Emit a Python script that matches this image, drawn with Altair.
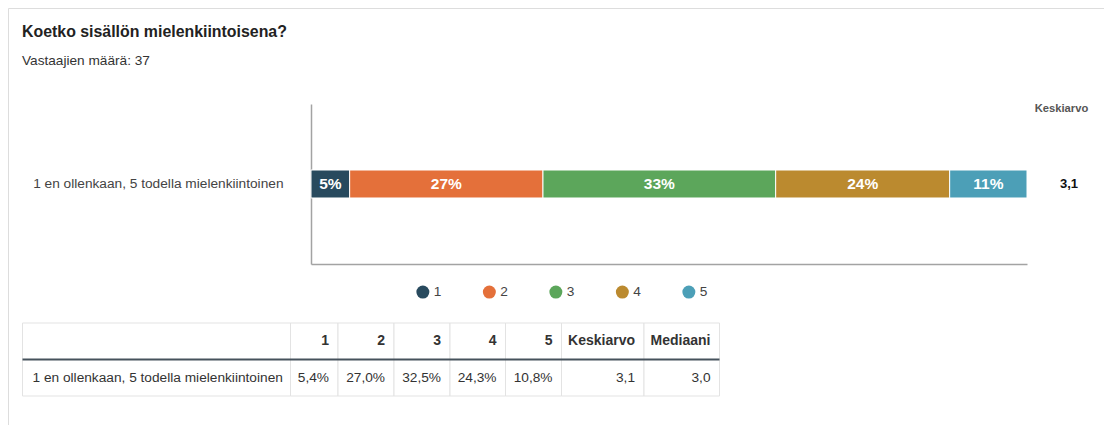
import altair as alt
import pandas as pd

# ---------------- data ----------------
TITLE = "Koetko sisällön mielenkiintoisena?"
SUBTITLE = "Vastaajien määrä: 37"
QUESTION = "1 en ollenkaan, 5 todella mielenkiintoinen"
SCORES = ["1", "2", "3", "4", "5"]
PCT = [5.4, 27.0, 32.5, 24.3, 10.8]
MEAN = 3.1
MEDIAN = 3.0
MEAN_LABEL = "Keskiarvo"
MEDIAN_LABEL = "Mediaani"

# ---------------- style / layout ----------------
COLORS = ["#284a5e", "#e4703a", "#5ca65b", "#bb8a2f", "#4c9fb7"]
FONT = "Liberation Sans"
W, H = 1096, 420
BAR_X = [303, 1019]
BAR_Y = [96, 256]
TABLE_X = [14.5, 711.5]
TABLE_Y = [315, 388]
COL_W = [268, 47.5, 56, 56, 55.5, 56, 82.5, 75.5]


def fi(v):
    return f"{v:.1f}".replace(".", ",")


bars_df = pd.DataFrame({"question": [QUESTION] * len(SCORES), "score": SCORES, "pct": PCT})

x_bar = alt.Scale(domain=[0, 100], range=BAR_X, nice=False, zero=True)
y_bar = alt.Scale(domain=[QUESTION], range=BAR_Y, paddingInner=0.5758, paddingOuter=1)

base = alt.Chart(bars_df).transform_stack(
    stack="pct", groupby=["question"], as_=["x0", "x1"],
    sort=[alt.SortField("score", order="ascending")]
)

bars = base.mark_bar(stroke="white", strokeWidth=1).encode(
    x=alt.X("x0:Q", scale=x_bar,
            axis=alt.Axis(title=None, orient="bottom", offset=-(H - BAR_Y[1]), labels=False,
                          ticks=False, grid=False, domainColor="#a3a3a3", domainWidth=1.5)),
    x2="x1:Q",
    y=alt.Y("question:N", scale=y_bar,
            axis=alt.Axis(title=None, orient="left", offset=-BAR_X[0], ticks=False, grid=False,
                          domainColor="#a3a3a3", domainWidth=1.5, labelPadding=28,
                          labelFontSize=13.7, labelColor="#444", labelFont=FONT, labelLimit=500)),
    color=alt.Color("score:N", scale=alt.Scale(domain=SCORES, range=COLORS),
                    legend=alt.Legend(title=None, orient="none", legendX=408, legendY=277,
                                      direction="horizontal", symbolType="circle", symbolSize=169,
                                      symbolStrokeWidth=0, symbolOpacity=1, labelFontSize=13.7,
                                      labelColor="#444", labelFont=FONT, labelOffset=4,
                                      columnPadding=40.5)),
)

bar_text = base.transform_calculate(
    mid="(datum.x0 + datum.x1) / 2",
    label="round(datum.pct) + '%'"
).mark_text(color="white", fontWeight="bold", fontSize=15.5, font=FONT, baseline="middle").encode(
    x=alt.X("mid:Q", scale=x_bar, axis=None),
    y=alt.Y("question:N", scale=y_bar, axis=None),
    text="label:N",
)

mean_df = pd.DataFrame({"question": [QUESTION], "mean": [fi(MEAN)], "head": [MEAN_LABEL]})
mean_text = alt.Chart(mean_df).mark_text(fontWeight="bold", fontSize=13, font=FONT, color="#111",
                                          baseline="middle").encode(
    x=alt.value(1061),
    y=alt.Y("question:N", scale=y_bar, axis=None),
    text="mean:N",
)
mean_head = alt.Chart(mean_df).mark_text(fontWeight="bold", fontSize=11.2, font=FONT, color="#555",
                                          baseline="alphabetic").encode(
    x=alt.value(1053.5), y=alt.value(104), text="head:N",
)

title_df = pd.DataFrame({"t": [TITLE], "s": [SUBTITLE]})
title = alt.Chart(title_df).mark_text(align="left", baseline="alphabetic", fontSize=15.9,
                                      fontWeight="bold", font=FONT, color="#222").encode(
    x=alt.value(14), y=alt.value(29), text="t:N")
subtitle = alt.Chart(title_df).mark_text(align="left", baseline="alphabetic", fontSize=13.65,
                                         font=FONT, color="#333").encode(
    x=alt.value(14), y=alt.value(57), text="s:N")

# ---------------- table ----------------
header = [""] + SCORES + [MEAN_LABEL, MEDIAN_LABEL]
body = [QUESTION] + [fi(p) + "%" for p in PCT] + [fi(MEAN), fi(MEDIAN)]
rows = []
edge = 0.0
for i, w in enumerate(COL_W):
    for r, txt in enumerate([header[i], body[i]]):
        rows.append({"col": i, "row": r, "x0": edge, "x1": edge + w,
                     "r0": r, "r1": r + 1, "rc": r + 0.5, "text": txt})
    edge += w
TOTAL = edge
cells = pd.DataFrame(rows)

tx = alt.Scale(domain=[0, TOTAL], range=TABLE_X, nice=False, zero=False)
ty = alt.Scale(domain=[0, 2], range=TABLE_Y, nice=False, zero=False)

tbase = alt.Chart(cells)
cell_rects = tbase.mark_rect(fill="white", stroke="#e3e3e3", strokeWidth=1).encode(
    x=alt.X("x0:Q", scale=tx, axis=None), x2="x1:Q",
    y=alt.Y("r0:Q", scale=ty, axis=None), y2="r1:Q",
)
sep = tbase.transform_filter("datum.row == 0").transform_aggregate(
    x0="min(x0)", x1="max(x1)", y="max(r1)"
).mark_rule(color="#46525c", strokeWidth=2).encode(
    x=alt.X("x0:Q", scale=tx, axis=None), x2="x1:Q",
    y=alt.Y("y:Q", scale=ty, axis=None),
)
head_text = tbase.transform_filter("datum.row == 0 && datum.col > 0").transform_calculate(
    tx="datum.x1 - 9").mark_text(align="right", baseline="middle", fontWeight="bold",
                                 fontSize=14, font=FONT, color="#333").encode(
    x=alt.X("tx:Q", scale=tx, axis=None), y=alt.Y("rc:Q", scale=ty, axis=None), text="text:N")
body_label = tbase.transform_filter("datum.row == 1 && datum.col == 0").transform_calculate(
    tx="datum.x0 + 10").mark_text(align="left", baseline="middle", fontSize=13.7, font=FONT,
                                  color="#333").encode(
    x=alt.X("tx:Q", scale=tx, axis=None), y=alt.Y("rc:Q", scale=ty, axis=None), text="text:N")
body_vals = tbase.transform_filter("datum.row == 1 && datum.col > 0").transform_calculate(
    tx="datum.x1 - 9").mark_text(align="right", baseline="middle", fontSize=13.7, font=FONT,
                                 color="#333").encode(
    x=alt.X("tx:Q", scale=tx, axis=None), y=alt.Y("rc:Q", scale=ty, axis=None), text="text:N")

chart = alt.layer(
    title, subtitle, bars, bar_text, mean_head, mean_text,
    cell_rects, sep, head_text, body_label, body_vals
).resolve_scale(x="independent", y="independent").properties(
    width=W, height=H, padding=0, autosize=alt.AutoSizeParams(type="none")
).configure_view(stroke="#e2e2e2", strokeWidth=1, cornerRadius=8).configure(font=FONT)

chart.save("out.html", embed_options={"renderer": "svg", "actions": False})
